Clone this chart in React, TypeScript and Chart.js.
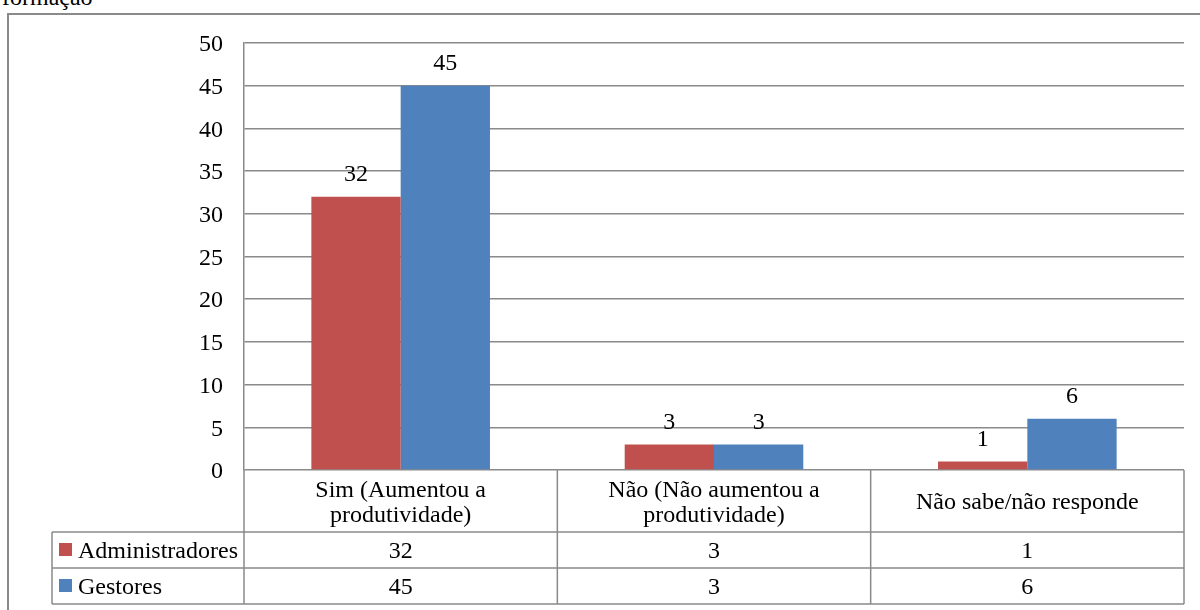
import React, { useEffect, useRef } from "react";
import { Chart, registerables } from "chart.js";

Chart.register(...registerables);

// Survey answers per respondent group
const categories: string[][] = [
  ["Sim (Aumentou a", "produtividade)"],
  ["Não (Não aumentou a", "produtividade)"],
  ["Não sabe/não responde"],
];
const administradores: number[] = [32, 3, 1];
const gestores: number[] = [45, 3, 6];
const seriesNames: string[] = ["Administradores", "Gestores"];
const seriesColors: string[] = ["#C0504D", "#4F81BD"];
const yTicks: number[] = [0, 5, 10, 15, 20, 25, 30, 35, 40, 45, 50];

const FONT = "'Liberation Serif', 'Times New Roman', serif";
const FONT_SIZE = 24;
const LINE = "#8a8a8a";
// canvas "middle" sits a little above the visual centre of serif glyphs
const TEXT_NUDGE = 2;

// Value labels above each bar
const valueLabels = {
  id: "valueLabels",
  afterDatasetsDraw(chart: any) {
    const ctx = chart.ctx;
    ctx.save();
    ctx.font = `${FONT_SIZE}px ${FONT}`;
    ctx.fillStyle = "#000";
    ctx.textAlign = "center";
    ctx.textBaseline = "middle";
    chart.data.datasets.forEach((ds: any, di: number) => {
      const meta = chart.getDatasetMeta(di);
      meta.data.forEach((bar: any, i: number) => {
        ctx.fillText(String(ds.data[i]), bar.x, bar.y - 22);
      });
    });
    ctx.restore();
  },
};

// Data table under the plot: category header row plus one row per series
const dataTable = {
  id: "dataTable",
  afterDraw(chart: any) {
    const ctx = chart.ctx;
    const x = chart.scales.x;
    const area = chart.chartArea;
    const n = categories.length;
    const colW = (area.right - area.left) / n;
    const headTop = area.bottom;
    const headBottom = headTop + 62;
    const rowH = 36;
    const legendLeft = 52;
    const tableBottom = headBottom + rowH * seriesNames.length;

    ctx.save();
    ctx.strokeStyle = LINE;
    ctx.lineWidth = 1.5;
    ctx.beginPath();
    // vertical lines
    for (let i = 0; i <= n; i++) {
      const vx = area.left + colW * i;
      ctx.moveTo(vx, headTop);
      ctx.lineTo(vx, tableBottom);
    }
    ctx.moveTo(legendLeft, headBottom);
    ctx.lineTo(legendLeft, tableBottom);
    // horizontal lines
    for (let r = 0; r <= seriesNames.length; r++) {
      const hy = headBottom + rowH * r;
      ctx.moveTo(legendLeft, hy);
      ctx.lineTo(area.right, hy);
    }
    ctx.stroke();

    ctx.font = `${FONT_SIZE}px ${FONT}`;
    ctx.fillStyle = "#000";
    ctx.textAlign = "center";
    ctx.textBaseline = "middle";
    const lineH = 25;
    categories.forEach((lines, i) => {
      const cx = x.getPixelForValue(i);
      const midY = (headTop + headBottom) / 2 + TEXT_NUDGE;
      const startY = midY - ((lines.length - 1) * lineH) / 2;
      lines.forEach((t, li) => ctx.fillText(t, cx, startY + li * lineH));
    });

    const seriesData = [administradores, gestores];
    seriesNames.forEach((name, r) => {
      const cy = headBottom + rowH * r + rowH / 2;
      ctx.fillStyle = seriesColors[r];
      ctx.fillRect(legendLeft + 7, cy - 7, 13, 13);
      ctx.fillStyle = "#000";
      ctx.textAlign = "left";
      ctx.fillText(name, legendLeft + 26, cy + TEXT_NUDGE);
      ctx.textAlign = "center";
      seriesData[r].forEach((v, i) => {
        ctx.fillText(String(v), x.getPixelForValue(i), cy + TEXT_NUDGE);
      });
    });
    ctx.restore();
  },
};

export default function App() {
  const canvasRef = useRef<HTMLCanvasElement | null>(null);

  useEffect(() => {
    if (!canvasRef.current) return;
    const chart = new Chart(canvasRef.current, {
      type: "bar",
      data: {
        labels: categories.map((c) => c.join(" ")),
        datasets: [
          {
            label: seriesNames[0],
            data: administradores,
            backgroundColor: seriesColors[0],
            categoryPercentage: 0.57,
            barPercentage: 1,
          },
          {
            label: seriesNames[1],
            data: gestores,
            backgroundColor: seriesColors[1],
            categoryPercentage: 0.57,
            barPercentage: 1,
          },
        ],
      },
      options: {
        responsive: false,
        animation: false,
        devicePixelRatio: 1,
        layout: { padding: { left: 0, right: 16, top: 43, bottom: 140 } },
        plugins: {
          legend: { display: false },
          tooltip: { enabled: false },
          title: { display: false },
        },
        scales: {
          x: { display: false },
          y: {
            min: yTicks[0],
            max: yTicks[yTicks.length - 1],
            afterBuildTicks: (scale: any) => {
              scale.ticks = yTicks.map((v) => ({ value: v }));
            },
            afterFit: (scale: any) => {
              scale.width = 244;
            },
            ticks: {
              padding: 21,
              labelOffset: TEXT_NUDGE,
              color: "#000",
              font: { family: FONT, size: FONT_SIZE },
            },
            grid: { color: LINE, lineWidth: 1.5, drawTicks: false },
            border: { display: true, color: LINE, width: 1.5 },
          },
        },
      },
      plugins: [valueLabels, dataTable],
    });
    return () => chart.destroy();
  }, []);

  return (
    <div
      style={{
        position: "fixed",
        left: 0,
        top: 0,
        width: 1200,
        height: 610,
        overflow: "hidden",
        background: "#fff",
      }}
    >
      <div
        style={{
          position: "absolute",
          left: 2,
          top: -13,
          fontFamily: FONT,
          fontSize: FONT_SIZE,
          lineHeight: "20px",
          color: "#000",
        }}
      >
        formação
      </div>
      <div
        style={{
          position: "absolute",
          left: 7,
          top: 13,
          width: 1300,
          height: 700,
          border: `2px solid ${LINE}`,
        }}
      />
      <canvas
        ref={canvasRef}
        width={1200}
        height={610}
        style={{ position: "absolute", left: 0, top: 0 }}
      />
    </div>
  );
}
